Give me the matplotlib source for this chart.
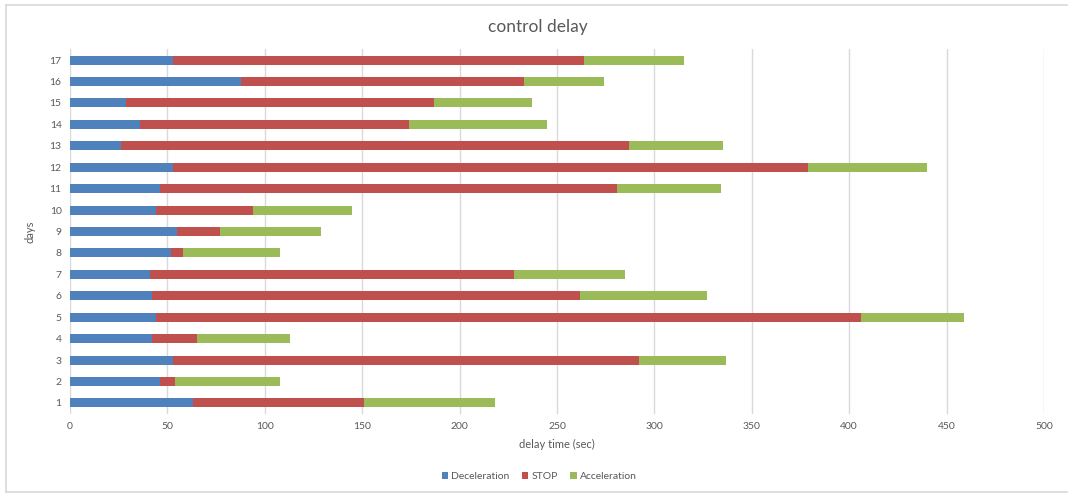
import matplotlib
matplotlib.use("Agg")
import matplotlib.pyplot as plt
from matplotlib.lines import Line2D
import numpy as np

days = [str(i) for i in range(1, 18)]
decel = [63, 46, 53, 42, 44, 42, 41, 52, 55, 44, 46, 53, 26, 36, 29, 88, 53]
stop = [88, 8, 239, 23, 362, 220, 187, 6, 22, 50, 235, 326, 261, 138, 158, 145, 211]
accel = [67, 54, 45, 48, 53, 65, 57, 50, 52, 51, 53, 61, 48, 71, 50, 41, 51]

plt.rcParams['font.family'] = ['Lato', 'DejaVu Sans']

fig = plt.figure(figsize=(10.68, 4.93), dpi=100)
ax = fig.add_axes([0.0655, 0.1609, 0.912, 0.739])

y = np.arange(1, 18)
h = 0.42
d = np.array(decel); s = np.array(stop); a = np.array(accel)
ax.barh(y, d, height=h, color='#4F81BD', label='Deceleration', zorder=3)
ax.barh(y, s, left=d, height=h, color='#C0504D', label='STOP', zorder=3)
ax.barh(y, a, left=d + s, height=h, color='#9BBB59', label='Acceleration', zorder=3)

ax.set_xlim(0, 500)
ax.set_ylim(0.5, 17.5)
ax.set_xticks(np.arange(0, 501, 50))
ax.set_yticks(y)
ax.set_yticklabels(days)
ax.grid(axis='x', color='#D9D9D9', linewidth=1, zorder=0)
ax.tick_params(length=0, labelsize=7.5, colors='#595959', pad=6)
for sp in ax.spines.values():
    sp.set_visible(False)

ax.set_xlabel('delay time (sec)', fontsize=8, color='#595959', labelpad=6)
ax.set_ylabel('days', fontsize=8, color='#595959', labelpad=10)
fig.text(0.504, 0.946, 'control delay', ha='center', va='center', fontsize=12.5, color='#595959')

fig.legend(loc='center', bbox_to_anchor=(0.505, 0.033), ncol=3, frameon=False,
           fontsize=7.5, handlelength=0.6, handleheight=0.6, handletextpad=0.3,
           columnspacing=1.2, labelcolor='#595959')

frame_kw = dict(transform=fig.transFigure, color='#D9D9D9', linewidth=1.2)
fig.lines.append(Line2D([0.0056, 1.0], [0.99, 0.99], **frame_kw))
fig.lines.append(Line2D([0.0056, 0.0056], [0.99, 0.003], **frame_kw))
fig.lines.append(Line2D([0.0056, 1.0], [0.003, 0.003], **frame_kw))

fig.savefig('out.png', dpi=100)
